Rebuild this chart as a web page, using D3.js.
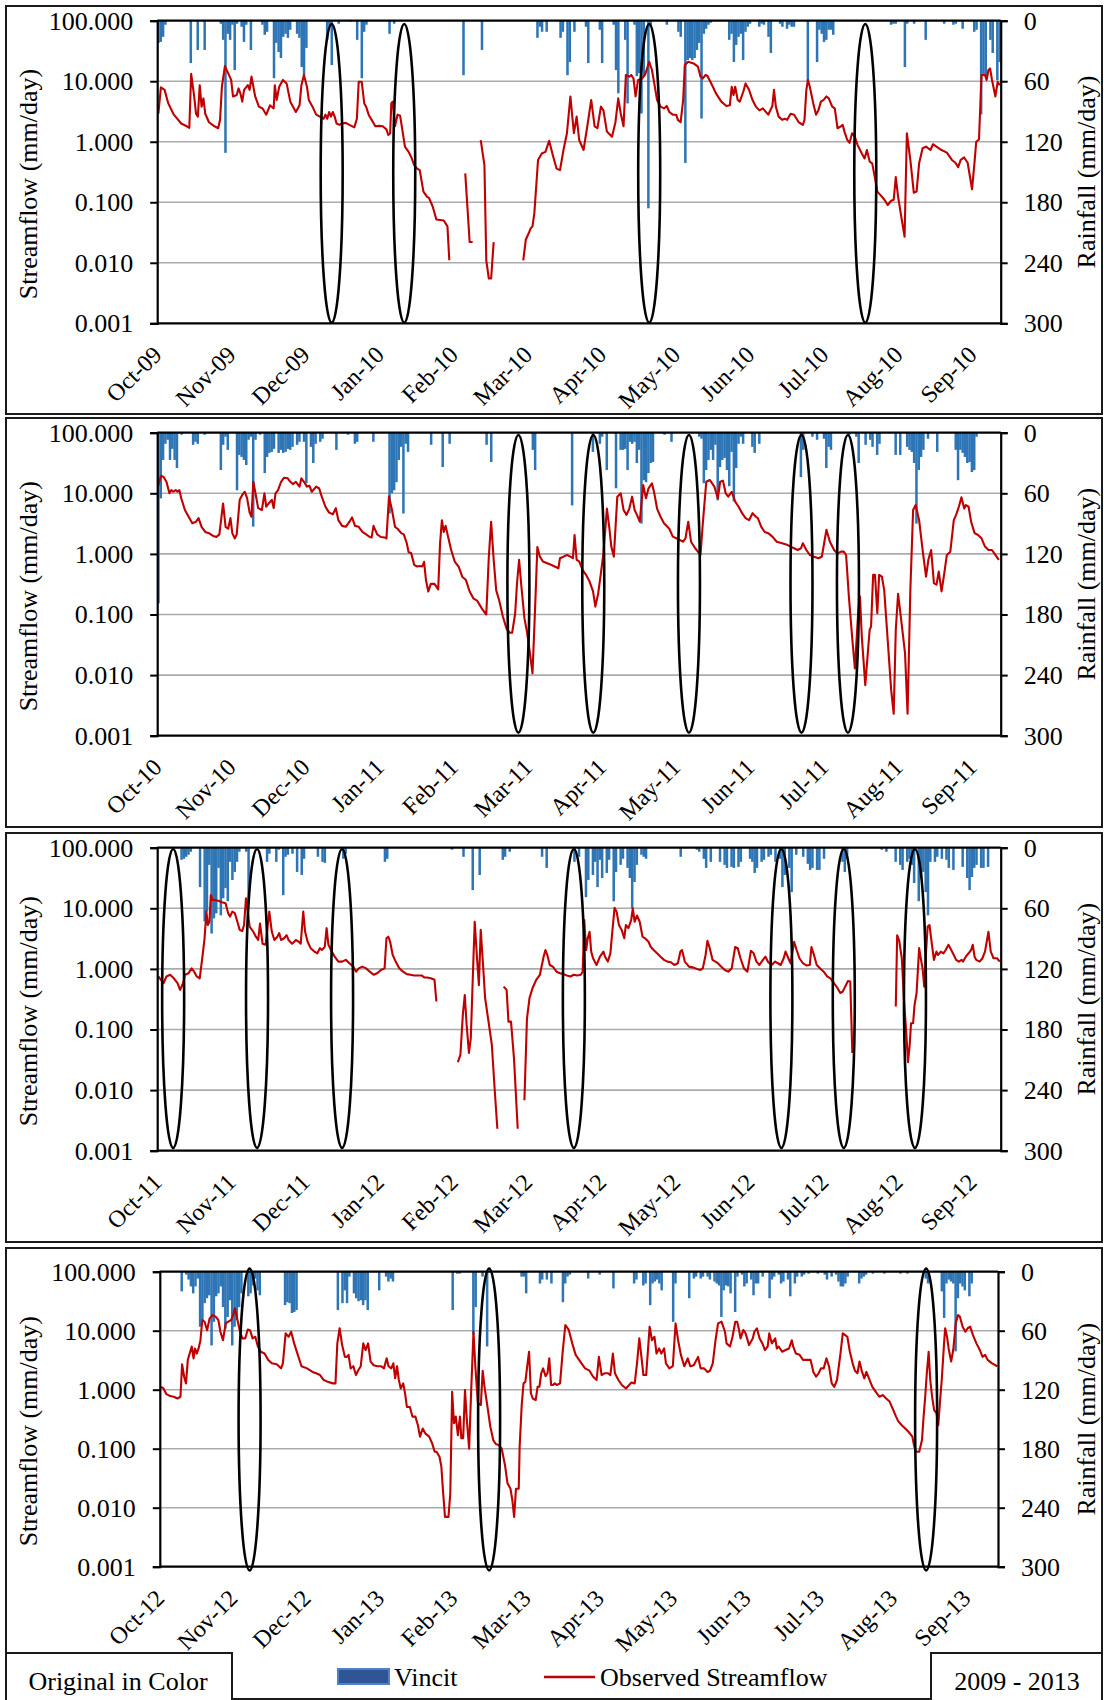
<!DOCTYPE html>
<html><head><meta charset="utf-8">
<script src="https://cdn.jsdelivr.net/npm/d3@7"></script>
<style>
body{margin:0;background:#fff}
svg{display:block}
text{font-family:"Liberation Serif","Times New Roman",serif;fill:#000}
</style>
</head><body>
<svg id="c" width="1104" height="1700"></svg>
<script>
// ---------- DATA ----------
const flowTicks=[0.001,0.01,0.1,1,10,100];
const rainTicks=[0,60,120,180,240,300];
const months1=["Oct-09","Nov-09","Dec-09","Jan-10","Feb-10","Mar-10","Apr-10","May-10","Jun-10","Jul-10","Aug-10","Sep-10"];
const months2=["Oct-10","Nov-10","Dec-10","Jan-11","Feb-11","Mar-11","Apr-11","May-11","Jun-11","Jul-11","Aug-11","Sep-11"];
const months3=["Oct-11","Nov-11","Dec-11","Jan-12","Feb-12","Mar-12","Apr-12","May-12","Jun-12","Jul-12","Aug-12","Sep-12"];
const months4=["Oct-12","Nov-12","Dec-12","Jan-13","Feb-13","Mar-13","Apr-13","May-13","Jun-13","Jul-13","Aug-13","Sep-13"];
const seriesNames=["Vincit","Observed Streamflow"];
const noteLeft="Original in Color";
const noteRight="2009 - 2013";
const flowTitle="Streamflow (mm/day)";
const rainTitle="Rainfall (mm/day)";

// streamflow: [day of water year, mm/day]; null = gap
const flow1=[[0.5,2.9],[1.6,7.9],[3.2,7.2],[4.8,4.3],[7.2,2.8],[10.4,2.0],[12.8,1.8],[13.9,1.7],[14.7,13.2],[16,5.6],[16.8,2.9],[17.6,2.6],[18.4,8.6],[19.2,3.8],[20,5.2],[20.8,2.9],[22.4,2.1],[24.8,1.8],[26.4,1.67],[27.2,2.3],[28,8.1],[29.3,17.8],[30.4,14.4],[32,10.5],[32.8,5.6],[34.4,5.9],[35.2,7.6],[36,6.3],[36.8,4.6],[37.6,7.2],[39.2,8.6],[40,7.2],[40.8,11.9],[42.4,5.6],[44,3.8],[45.6,3.55],[47.2,2.8],[48.8,4.0],[50.4,3.55],[50.9,8.6],[51.7,4.9],[52.8,8.1],[54.4,10.5],[56,9.2],[57.6,4.6],[60,3.1],[61.6,4.0],[62.4,8.6],[63.5,12.7],[64.8,8.1],[65.6,4.9],[67.2,3.8],[68.8,2.8],[70.4,2.6],[72,2.4],[72.8,2.8],[73.6,2.4],[74.4,3.1],[75.2,2.6],[76,3.1],[76.8,2.6],[77.6,2.0],[78.9,1.9],[80,2.0],[81.6,2.05],[83.2,1.9],[85.3,1.73],[86.4,2.4],[87.2,9.8],[88.5,9.8],[89.6,4.3],[90.4,3.8],[91.5,2.8],[92.8,2.3],[94.4,1.8],[96,1.83],[97.6,1.8],[99.2,1.6],[100,1.29],[100.8,1.37],[101.3,4.3],[101.9,4.6],[102.9,1.8],[104,2.8],[105.1,2.7],[106.1,1.56],[107.2,0.83],[108.8,0.68],[109.9,0.56],[111.2,0.41],[112.5,0.36],[113.6,0.34],[115.2,0.15],[116.8,0.123],[117.6,0.118],[119.2,0.085],[120.8,0.052],[124,0.050],[125.6,0.040],[126.4,0.011],[126.5,null],[133.3,0.30],[135.2,0.022],[136.5,0.022],[137,null],[140,1.06],[141.6,0.41],[142.4,0.011],[143.5,0.0055],[144.5,0.0055],[145.6,0.022],[146,null],[158.4,0.011],[159.5,0.024],[160.8,0.031],[161.6,0.037],[162.4,0.040],[163.2,0.066],[164.8,0.50],[166.4,0.64],[168,0.68],[169.6,1.04],[171.2,0.60],[172.8,0.36],[174.3,0.34],[175.8,0.73],[177.3,1.38],[178.8,5.6],[180.3,1.38],[181.5,2.6],[182.6,1.07],[184.5,0.73],[186.3,2.0],[187.8,4.9],[189.3,1.8],[190.5,1.67],[192,3.8],[193.1,3.3],[194.6,1.47],[196.8,1.21],[198.3,2.1],[199.5,5.2],[200.6,2.9],[201.8,1.8],[202.8,12.7],[204.3,11.9],[205.1,12.7],[206.1,11.1],[207,5.6],[208.1,10.5],[209.6,10.9],[211.1,12.7],[212.9,21],[214.1,15.3],[215.1,9.2],[216.3,4.9],[217.8,3.8],[219.3,3.55],[220.5,3.9],[221.6,3.1],[223.1,2.8],[224.6,2.8],[225.3,2.3],[226.5,2.1],[227.6,4.9],[228.3,18.5],[229.8,21],[232.1,19.7],[234,17.4],[235.1,11.9],[236.1,11.1],[237.3,12.7],[238.1,12.2],[239.6,9.4],[241.8,6.3],[244.1,4.6],[246.3,3.9],[247.8,4.0],[248.6,8.1],[249.4,5.9],[250.1,8.1],[251.2,4.9],[252.1,4.6],[253.6,6.7],[254.6,9.2],[256.1,7.2],[257.6,4.9],[259.1,3.8],[260.6,3.3],[262.1,3.55],[264.4,2.8],[266.2,3.9],[266.9,7.2],[267.7,3.8],[268.9,2.6],[270.4,2.3],[271.6,2.4],[272.6,2.3],[274.1,2.9],[275.6,2.8],[277.6,2.1],[279.4,1.9],[280.1,2.3],[280.9,7.2],[281.6,10.5],[282.4,8.1],[283.9,4.3],[285.1,2.8],[286.1,3.3],[287.2,4.6],[288.4,4.9],[289.6,5.6],[290.6,5.2],[292.1,3.8],[293.2,3.55],[294.4,1.67],[295.9,1.8],[296.6,1.9],[297.4,1.47],[298.6,1.07],[299.6,0.96],[300.7,1.38],[301.9,1.21],[303.1,0.88],[304.9,0.64],[306.1,0.53],[307.1,0.73],[308.3,0.47],[309.4,0.44],[310.6,0.25],[311.6,0.15],[313.1,0.13],[314.7,0.11],[316.1,0.090],[317.6,0.106],[318.7,0.11],[319.6,0.26],[320.6,0.124],[322.2,0.051],[323.4,0.027],[324.4,1.38],[325.9,0.50],[327.4,0.144],[328.6,0.15],[329.7,0.44],[331.2,0.78],[332.7,0.83],[334.6,0.73],[335.7,0.91],[337.2,0.83],[339.4,0.73],[341.7,0.66],[343.9,0.50],[345.4,0.45],[346.6,0.38],[347.7,0.50],[349.2,0.55],[350.7,0.45],[352.6,0.164],[353.7,0.47],[354.4,1.0],[355.6,1.09],[356.7,12.7],[358.2,12.7],[358.9,10.5],[359.7,15.3],[360.4,16.3],[361.2,10.7],[362.7,5.6],[363.7,9.8],[364.6,8.6]];

const flow2=[[0.3,12.9],[1.6,19.3],[2.7,18.8],[4,15.5],[5.3,10],[6.1,11.3],[6.9,10.6],[8,11.3],[8.8,10.6],[9.6,11.3],[10.4,8.3],[12,5.3],[13.6,4.1],[15.2,3.2],[16.8,3.4],[17.9,3.9],[19.2,2.8],[20.8,2.3],[22.4,2.2],[24,2.0],[25.6,1.9],[26.9,2.1],[28.5,6.8],[29.6,2.8],[30.7,2.6],[31.7,3.9],[32.5,2.2],[33.6,1.8],[34.4,2.1],[35.7,7.8],[36.8,9.4],[37.9,10.6],[38.9,8.3],[40,4.8],[40.8,4.1],[41.6,15.5],[42.4,10.6],[43.7,5.7],[45.3,5.3],[46.4,10],[47.2,6.0],[48.5,7.0],[49.6,7.8],[50.4,5.7],[51.2,10],[52.3,11.3],[53.6,15.5],[54.9,18.1],[56.5,17.7],[57.6,15.5],[58.7,14.2],[60,15.5],[61.6,12.9],[62.4,17.7],[63.5,15.5],[64.8,12.9],[65.9,13.3],[66.9,10.6],[68.8,12.9],[70.1,12.0],[71.2,8.8],[72.8,6.0],[74.4,4.8],[76,4.5],[77.3,5.7],[78.4,3.6],[80,2.9],[81.6,2.8],[83.2,3.4],[84.3,4.0],[85.6,2.9],[87.2,2.8],[88.8,2.3],[90.4,2.1],[92,1.9],[92.8,1.87],[93.6,2.9],[95.2,2.1],[96.8,1.9],[98.4,1.87],[99.2,1.8],[100.3,8.8],[101.6,5.3],[102.9,2.8],[104,2.6],[105.6,2.2],[106.7,2.1],[108,1.5],[108.8,1.06],[109.9,1.03],[111.2,0.66],[112.5,0.62],[113.6,0.63],[114.7,0.62],[115.5,0.74],[116.3,0.37],[117.3,0.24],[118.4,0.32],[120,0.32],[121.6,0.26],[122.4,1.5],[123.2,3.6],[124,2.3],[124.8,2.9],[125.9,1.9],[127.2,1.16],[128.8,0.74],[130.4,0.62],[132,0.42],[133.6,0.37],[135.2,0.24],[136.8,0.185],[138.4,0.17],[140,0.135],[140.8,0.12],[142.4,0.10],[143.5,0.9],[144.5,3.4],[145.6,0.8],[146.7,0.25],[148,0.17],[149.6,0.092],[151.2,0.058],[152.5,0.050],[153.6,0.050],[154.9,0.104],[155.7,0.33],[156.6,0.8],[157.6,0.29],[158.9,0.087],[160,0.052],[161.1,0.026],[162.4,0.0107],[163.5,0.12],[164.5,1.3],[165.6,0.9],[166.9,0.75],[168.8,0.7],[170.4,0.66],[172,0.62],[173.6,0.58],[174.3,0.85],[175.8,0.90],[177.3,0.96],[178.8,0.90],[179.9,0.85],[180.6,2.05],[181.5,0.80],[182.6,0.75],[184.1,0.54],[185.6,0.45],[187.1,0.35],[188.6,0.24],[189.6,0.135],[190.8,0.22],[192,0.48],[193.1,1.02],[194.6,5.6],[195.6,2.8],[196.5,1.32],[197.6,0.90],[199.1,8.8],[200.6,10],[201.8,5.3],[203.1,4.4],[204.3,5.6],[205.5,8.8],[206.6,5.3],[207.6,4.4],[208.8,3.4],[210.3,13.7],[211.5,8.3],[212.6,12.1],[214.1,14.6],[215.1,10],[216.3,5.6],[217.8,4.1],[219.3,3.2],[221.6,2.6],[223.1,1.93],[224.6,1.81],[226.1,1.70],[227.6,1.59],[228.6,1.81],[229.8,3.4],[231,1.59],[232.8,1.24],[235.1,0.96],[236.1,3.2],[237.6,15.5],[239.1,16.6],[241.1,12.9],[242.6,8.3],[243.6,15.5],[244.8,16.2],[246,10],[247.1,8.8],[248.6,10.6],[250.1,7.3],[251.6,6.0],[253.1,4.7],[254.6,3.9],[256.1,3.6],[257.6,4.7],[259.1,4.1],[259.9,3.9],[261.4,2.8],[262.9,2.3],[264.4,2.2],[266.2,1.93],[268.1,1.59],[270.4,1.5],[272.6,1.41],[274.1,1.32],[275.6,1.24],[277.1,1.16],[278.6,1.24],[279.4,1.5],[280.9,1.16],[282.4,0.96],[284.2,0.90],[286.1,0.85],[287.6,0.90],[289.6,2.5],[291.1,1.59],[292.9,1.16],[294.4,1.02],[295.9,1.09],[297.1,1.09],[298.1,0.96],[299.3,0.198],[300.7,0.043],[301.9,0.0129],[303.4,0.119],[304.1,0.198],[304.9,0.043],[306.4,0.0068],[307.6,0.026],[308.3,0.056],[308.9,0.063],[309.8,0.45],[310.6,0.45],[311.6,0.105],[312.4,0.45],[313.6,0.42],[314.6,0.25],[316.1,0.038],[317.6,0.0057],[318.7,0.0023],[319.6,0.056],[320.6,0.22],[322.1,0.072],[323.6,0.023],[324.7,0.0023],[325.9,0.25],[327.1,5.3],[328.2,6.4],[329.7,3.6],[331.2,1.16],[332.7,0.42],[333.7,0.80],[334.9,1.16],[336.1,0.33],[337.2,0.31],[338.2,0.51],[339.4,0.24],[340.6,0.48],[341.7,0.96],[343.2,1.09],[344.7,3.6],[345.7,4.4],[346.9,6.0],[348,8.6],[349.2,5.6],[349.9,6.4],[351.1,6.0],[352.2,3.4],[353.7,2.2],[355.2,2.05],[356.7,1.81],[358.2,1.32],[359.7,1.16],[361.2,1.16],[362.7,0.96],[364.2,0.80]];

const flow3=[[0.5,0.75],[1.6,0.66],[2.7,0.58],[4,0.75],[5.6,0.80],[7.2,0.70],[8.8,0.58],[9.9,0.45],[11.2,0.58],[12,0.80],[13.6,0.85],[14.9,1.02],[16,0.90],[17.1,0.75],[18.4,0.70],[19.5,1.5],[20.5,3.2],[21.3,8.8],[21.9,5.3],[22.6,6.0],[23.2,16.6],[24,13.7],[24.8,13.7],[26.4,13.3],[28,12.6],[29.6,12.1],[30.7,8.3],[31.5,7.3],[32.5,8.8],[33.6,8.3],[34.7,6.0],[35.7,4.4],[36.8,4.2],[37.6,5.3],[38.4,14.6],[39.2,8.8],[40,5.0],[41.6,4.1],[42.7,3.4],[43.7,3.0],[44.5,5.6],[45.6,2.6],[46.9,2.5],[48.5,8.8],[49.6,4.1],[50.7,3.0],[52,3.4],[52.8,3.9],[53.6,3.0],[54.9,3.2],[56,3.6],[56.8,3.0],[58.4,2.6],[60,3.0],[61.3,2.8],[62.1,2.6],[63.2,8.8],[64,4.1],[65.1,2.8],[66.4,2.2],[68,1.93],[69.3,1.81],[70.4,2.2],[71.2,2.05],[72.5,2.3],[73.3,4.7],[74.1,2.5],[75.2,2.05],[76.8,1.59],[78.4,1.32],[80,1.32],[81.6,1.41],[83.2,1.24],[84.8,1.09],[86.1,0.90],[87.2,1.02],[88.8,1.09],[90.4,1.02],[92,0.90],[93.6,0.80],[95.2,0.85],[96.8,0.96],[98.4,1.02],[99.2,3.2],[100,3.4],[100.8,2.8],[101.9,1.7],[103.2,1.32],[104.8,1.02],[106.4,0.90],[108,0.82],[109.6,0.80],[111.2,0.78],[112.8,0.78],[114.4,0.78],[115.7,0.72],[116.8,0.72],[118.4,0.70],[120,0.66],[120.8,0.29],[121,null],[130.1,0.029],[131.2,0.038],[132.3,0.185],[133.1,0.37],[133.9,0.12],[134.9,0.041],[135.7,0.072],[136.8,1.32],[137.4,6.0],[138.4,1.5],[139.2,0.54],[140,4.4],[141,1.16],[141.9,0.33],[143.2,0.15],[144.8,0.056],[146.1,0.0094],[147.2,0.0023],[148,null],[149.9,0.51],[151.2,0.45],[152,0.135],[153.1,0.135],[154.4,0.033],[156,0.0023],[156.5,null],[158.9,0.0068],[160,0.15],[161.1,0.33],[162.4,0.48],[164,0.66],[165.6,0.80],[167.2,1.59],[168,2.05],[168.8,1.7],[169.9,1.16],[171.2,1.09],[172.8,0.90],[174.3,0.85],[175.8,0.82],[177.3,0.78],[178.8,0.75],[180.3,0.80],[181.8,0.78],[183.3,0.80],[184.1,0.90],[184.8,6.4],[185.6,2.05],[186.3,3.2],[187.1,4.1],[187.8,1.93],[188.6,1.5],[190.1,1.16],[191.6,1.59],[193.1,1.93],[193.8,1.59],[195,1.32],[196.1,1.81],[196.8,3.6],[197.9,10.2],[198.8,8.8],[199.8,5.3],[201,4.4],[202.1,3.2],[202.8,5.3],[203.9,4.7],[205.1,6.4],[205.8,10],[206.6,6.0],[207.6,7.6],[208.8,6.0],[210,3.4],[211.1,3.2],[212.6,2.8],[213.6,2.3],[214.8,2.05],[216.3,1.81],[217.8,1.59],[219.3,1.41],[220.8,1.32],[222.3,1.29],[223.8,1.16],[225.3,1.24],[226.4,1.93],[227.1,2.05],[228.3,1.32],[230.1,1.09],[232.1,1.05],[233.6,1.0],[235.1,0.96],[236.1,1.02],[237.3,1.7],[238.1,2.9],[239.1,2.2],[240.3,1.41],[242.6,1.24],[244.1,1.09],[245.6,0.96],[247.1,0.90],[248.6,1.02],[250.1,2.3],[251.2,2.2],[252.4,1.5],[253.9,1.02],[255.4,0.90],[256.9,1.98],[258.1,1.81],[259.3,1.32],[260.6,1.16],[262.1,1.41],[263.2,1.59],[264.4,1.29],[265.9,1.16],[267.4,1.32],[268.6,1.24],[269.8,1.16],[271.1,1.5],[271.9,1.93],[273.1,1.5],[274.1,1.24],[275.6,2.8],[276.7,2.05],[277.9,1.5],[279.4,1.24],[280.9,1.14],[282.4,1.16],[283.1,2.3],[284.2,1.7],[285.4,1.16],[286.9,1.02],[288.4,0.90],[289.9,0.75],[291.4,0.69],[292.9,0.58],[294.4,0.48],[295.6,0.40],[296.6,0.42],[297.7,0.51],[298.9,0.63],[299.9,0.62],[300.8,0.041],[301,null],[319.6,0.24],[320.2,3.6],[321.1,2.9],[322.2,1.5],[323.2,0.29],[324.1,0.092],[324.9,0.029],[325.6,0.054],[326.2,0.127],[327.1,0.127],[327.7,0.25],[328.6,0.40],[329.7,2.2],[330.4,1.5],[331.2,1.02],[331.9,0.51],[332.7,1.93],[333.4,5.0],[334.2,5.3],[334.9,3.2],[336.1,1.41],[337.2,1.93],[337.9,1.7],[339.1,1.93],[340.2,1.81],[341.2,2.05],[342.4,2.5],[343.6,2.05],[344.7,1.7],[345.7,1.41],[346.9,1.32],[348.1,1.41],[348.7,1.32],[349.9,1.59],[351.1,1.81],[352.2,2.05],[352.9,2.5],[353.7,1.59],[354.4,1.41],[355.9,1.32],[357.1,1.5],[358.2,1.93],[359.7,4.1],[360.7,1.93],[361.9,1.5],[363.4,1.5],[364.6,1.32]];

const flow4=[[0.5,1.12],[1.6,1.05],[2.9,0.84],[4.5,0.78],[6.1,0.76],[7.7,0.71],[9.0,0.76],[9.7,2.7],[10.6,1.66],[11.4,1.28],[12.2,3.2],[13,4.1],[13.9,5.4],[14.7,3.4],[15.3,5.0],[16.1,4.1],[16.9,5.0],[17.7,6.9],[18.5,15.2],[19.5,14.2],[20.6,10.2],[21.7,16.2],[23,18.4],[24.3,17.3],[25.5,15.2],[26.4,9.6],[27.5,6.9],[28.7,13.3],[29.8,14.2],[31.1,15.2],[31.9,18.4],[32.7,23.9],[33.5,17.3],[34.8,10.2],[35.9,7.4],[37.2,7.4],[38.3,10.5],[39.3,10.2],[40.4,7.4],[41.6,7.9],[42.7,5.4],[44,4.4],[45.6,4.1],[47.2,3.2],[48.8,2.8],[50.9,2.7],[52.8,2.3],[53.6,2.8],[54.8,9.0],[56.1,7.9],[57.2,9.6],[58.5,6.1],[60.1,3.9],[61.7,2.5],[64.1,2.3],[66.5,2.0],[68.1,1.9],[69.8,1.77],[71.4,1.46],[73,1.37],[75.4,1.28],[76.5,1.28],[77.3,6.1],[78.3,11],[79.4,5.7],[80.6,3.6],[81.4,3.6],[82.2,3.9],[83.1,2.3],[84.3,2.5],[85.4,1.77],[86.3,2.1],[87.5,2.5],[88.6,6.1],[89.6,4.7],[90.7,6.1],[91.8,3.0],[93.1,2.6],[94.7,2.5],[96.3,2.5],[97.6,2.3],[98.8,3.4],[99.6,2.5],[100.8,2.3],[101.7,2.8],[102.5,1.56],[103.3,2.5],[104.1,1.46],[104.9,1.05],[106,1.28],[106.8,0.87],[107.6,0.51],[108.9,0.51],[110,0.35],[111.3,0.35],[112.4,0.25],[113.3,0.16],[114.5,0.22],[115.7,0.18],[117.3,0.16],[118.6,0.123],[119.7,0.089],[120.5,0.089],[121.8,0.073],[122.6,0.050],[123.4,0.0175],[124.2,0.0070],[125.7,0.0070],[126.5,0.0175],[127.3,0.92],[128.1,0.27],[128.9,0.35],[129.8,0.17],[130.7,0.35],[131.3,0.15],[132.1,0.15],[132.9,0.99],[133.7,0.31],[134.7,0.1],[135.6,0.99],[136.6,9.6],[137.4,2.5],[138.5,0.59],[139.8,0.55],[140.6,2.1],[141.4,1.12],[142.7,0.51],[143.9,0.24],[145.2,0.14],[146.3,0.12],[147.6,0.115],[148.9,0.1],[150.3,0.053],[151.4,0.026],[152.7,0.021],[153.5,0.0135],[154.3,0.007],[155.1,0.021],[156.3,0.021],[156.7,0.108],[157.6,0.55],[158.4,1.28],[159.2,1.37],[160,2.5],[160.8,4.4],[161.6,0.87],[162.4,0.71],[163.7,0.67],[164.5,1.12],[165.3,1.12],[166.1,1.9],[166.9,2.3],[168,1.7],[168.8,1.9],[169.6,3.4],[170.4,1.2],[171.2,1.2],[172,1.28],[172.9,1.2],[174.3,1.28],[175.5,4.7],[176.6,12.5],[178.1,10.3],[179.6,6.1],[181.1,3.9],[183.1,3.0],[185.2,2.3],[187.1,2.1],[188.7,1.66],[190.2,1.46],[191.2,3.6],[192.4,1.77],[193.6,1.9],[195.2,1.9],[196.2,1.77],[197.3,4.1],[198.2,1.9],[199.7,1.46],[201.2,1.2],[203,1.05],[205.3,1.32],[206.8,1.28],[207.8,2.8],[208.8,7.4],[209.4,4.7],[210.6,1.77],[211.8,1.77],[213.3,11.7],[214.3,6.9],[215.4,7.9],[216.3,4.1],[217.4,5.0],[218.4,4.1],[219.6,5.0],[220.4,2.8],[221.9,2.3],[223.4,2.5],[224.6,13.3],[225.7,6.9],[226.9,3.9],[228.4,2.5],[229.9,3.4],[231,2.5],[232.5,2.6],[234.4,3.6],[235.5,2.3],[237,2.3],[238.5,2.0],[239.6,2.1],[240.8,2.8],[242,6.9],[243.1,13.3],[244.6,14.2],[246.1,9.6],[246.8,6.1],[248.3,5.4],[249.4,7.9],[250.6,14.2],[251.4,14.2],[252.1,11],[252.9,7.4],[254.1,10.3],[255.1,9.0],[256.6,5.7],[258.2,7.4],[258.9,9.6],[260,11],[261.2,7.4],[262.4,6.1],[263.5,4.7],[264.7,5.4],[265.4,9.0],[266.5,6.1],[268,7.4],[268.7,5.0],[269.5,5.4],[271,4.4],[272.5,4.7],[274,5.0],[275.2,6.9],[275.8,5.4],[277,4.1],[278.6,3.9],[280.1,3.2],[281.9,3.2],[283.4,3.2],[284.6,2.0],[285.8,1.66],[286.9,1.9],[287.9,2.3],[289.1,2.3],[290.3,3.4],[291.4,2.5],[292.6,1.28],[293.7,1.12],[294.9,1.46],[296.4,4.1],[297.4,9.0],[298.5,8.4],[299.4,7.9],[300.5,4.4],[301.7,2.8],[302.7,2.1],[303.8,1.9],[304.7,3.0],[305.8,2.0],[306.8,1.56],[307.7,2.0],[308.8,1.56],[310.3,1.12],[311.8,0.92],[313.3,0.76],[314.8,0.81],[316.3,0.71],[317.8,0.63],[319.4,0.45],[320.6,0.35],[321.6,0.29],[323.1,0.25],[324.6,0.22],[326.2,0.19],[327.7,0.16],[328.4,0.115],[329.2,0.089],[330.7,0.089],[331.9,0.14],[332.6,0.35],[333.3,0.76],[334,1.9],[334.8,4.4],[335.5,1.46],[336.3,0.76],[337.2,0.45],[338.2,0.4],[339,0.25],[339.8,0.67],[340.5,1.46],[341.6,6.9],[342,11],[342.8,7.9],[343.5,5.0],[344.6,3.0],[345.5,4.7],[346.6,13.3],[347.6,18.4],[348.4,17.3],[349.6,11.7],[350.8,9.6],[351.8,11],[352.9,11.7],[354.1,8.4],[355.6,6.1],[357.1,4.7],[358.3,3.6],[359.4,3.9],[360.5,3.2],[362.4,2.8],[364.7,2.5]];

// rainfall: [day of water year, mm/day]
const rain1=[[0,22],[1,21],[2,16],[3,4],[14,42],[17,29],[20,29],[27,3],[28,19],[29,131],[30,13],[31,19],[32,4],[33,49],[34,3],[36,6],[37,21],[38,4],[40,29],[45,4],[46,14],[47,11],[50,57],[51,22],[52,31],[53,37],[54,16],[55,13],[56,17],[57,9],[60,13],[61,17],[62,46],[63,54],[64,27],[73,19],[74,6],[75,44],[78,3],[83,1],[86,19],[88,57],[89,11],[90,4],[100,13],[102,3],[132,54],[140,29],[164,17],[165,6],[166,11],[168,11],[174,17],[175,11],[177,54],[178,41],[180,11],[185,6],[186,42],[191,9],[192,42],[197,4],[198,49],[199,72],[202,19],[203,82],[206,4],[207,55],[208,52],[209,92],[210,55],[212,186],[213,6],[220,4],[225,11],[226,16],[228,141],[229,39],[230,37],[231,39],[232,37],[233,29],[234,22],[235,97],[236,13],[237,8],[238,4],[239,2],[247,19],[248,13],[249,41],[250,24],[251,16],[252,13],[253,39],[254,11],[255,6],[256,3],[260,6],[261,3],[262,4],[264,16],[265,32],[269,3],[270,6],[272,8],[273,4],[274,6],[275,6],[281,60],[285,41],[286,9],[287,13],[288,21],[289,19],[290,9],[291,9],[292,14],[317,4],[318,3],[319,3],[323,46],[324,3],[327,3],[332,19],[340,3],[344,4],[345,3],[348,8],[353,11],[354,9],[356,93],[357,54],[358,55],[360,19],[361,32],[363,59],[364,41]];

const rain2=[[0,169],[1,65],[2,27],[3,11],[4,7],[5,27],[6,16],[7,27],[8,35],[10,2],[15,12],[16,9],[17,11],[20,2],[27,37],[28,12],[29,4],[30,17],[34,57],[35,22],[36,24],[37,27],[38,32],[39,7],[40,4],[41,93],[42,7],[44,2],[46,40],[47,24],[48,20],[49,19],[50,16],[52,20],[53,17],[54,20],[55,19],[56,16],[57,17],[58,14],[60,12],[61,9],[63,9],[64,50],[66,14],[67,30],[68,11],[70,9],[71,6],[77,17],[82,2],[85,11],[86,9],[93,9],[100,80],[101,60],[102,57],[103,49],[104,27],[105,14],[106,80],[107,11],[108,19],[118,12],[123,34],[126,11],[142,12],[144,29],[162,17],[163,37],[179,72],[188,19],[191,11],[192,4],[194,37],[198,55],[200,17],[201,17],[202,16],[203,37],[204,9],[205,11],[206,9],[207,30],[208,17],[209,90],[210,47],[211,49],[212,40],[213,30],[214,29],[219,2],[222,9],[234,4],[235,6],[236,50],[237,37],[238,27],[239,17],[240,27],[241,12],[242,67],[243,34],[244,27],[245,25],[246,37],[247,53],[248,19],[249,68],[250,35],[251,11],[252,4],[253,11],[257,14],[258,20],[260,11],[278,44],[279,17],[283,4],[285,7],[288,6],[289,35],[290,14],[291,17],[299,2],[302,4],[303,30],[306,12],[308,7],[309,14],[311,22],[312,11],[319,22],[321,22],[324,14],[325,17],[326,19],[327,30],[328,90],[329,37],[330,24],[331,17],[333,6],[337,19],[345,17],[346,47],[347,17],[348,20],[349,24],[350,30],[351,29],[352,39],[353,37],[354,4]];

const rain3=[[10,12],[11,11],[12,9],[13,7],[14,4],[18,39],[20,73],[21,63],[22,17],[23,85],[24,70],[25,65],[26,20],[27,67],[28,50],[29,40],[30,53],[31,14],[32,32],[33,24],[34,14],[35,4],[38,4],[39,55],[47,14],[48,6],[51,14],[52,2],[54,47],[55,9],[56,7],[58,6],[60,24],[62,27],[63,11],[69,9],[71,14],[72,15],[80,11],[81,6],[98,14],[99,11],[127,2],[132,9],[136,42],[139,27],[149,12],[150,9],[152,4],[166,9],[168,20],[180,14],[182,9],[185,49],[186,32],[188,27],[189,14],[190,39],[191,12],[192,30],[194,25],[195,12],[197,53],[198,24],[200,17],[201,11],[203,20],[204,30],[205,60],[206,34],[207,17],[209,7],[210,9],[211,11],[226,9],[233,2],[234,4],[236,11],[237,20],[239,14],[243,14],[245,17],[246,20],[248,19],[249,20],[251,19],[252,14],[256,11],[257,14],[258,25],[259,20],[261,14],[262,12],[264,9],[265,7],[267,14],[269,11],[270,39],[271,27],[273,20],[274,44],[276,7],[279,9],[281,16],[282,22],[283,20],[285,22],[286,22],[288,11],[296,14],[297,24],[298,11],[313,2],[315,4],[319,14],[321,17],[322,22],[324,14],[325,11],[326,17],[327,35],[329,53],[330,30],[331,24],[332,44],[333,67],[334,14],[336,14],[337,9],[339,11],[341,12],[342,20],[344,22],[348,19],[350,30],[351,42],[352,29],[353,20],[354,17],[356,20],[357,20],[359,19]];

const rain4=[[9,20],[11,3],[12,8],[13,15],[14,22],[15,15],[16,7],[17,56],[18,49],[19,32],[20,27],[21,24],[22,75],[23,51],[24,25],[25,22],[26,15],[27,36],[28,58],[29,46],[30,29],[31,75],[32,56],[33,49],[34,36],[35,22],[38,25],[39,22],[40,14],[41,7],[42,19],[43,24],[54,34],[55,31],[56,32],[57,42],[58,41],[59,39],[77,39],[79,32],[80,19],[81,32],[82,5],[84,22],[85,27],[86,30],[87,29],[88,34],[89,29],[90,39],[95,19],[98,5],[99,10],[100,7],[101,10],[127,39],[129,2],[130,2],[136,64],[137,36],[140,5],[142,76],[157,5],[158,5],[159,22],[165,12],[166,8],[168,8],[170,12],[175,31],[176,12],[177,5],[178,3],[186,7],[191,3],[197,17],[206,12],[207,8],[210,14],[211,12],[213,34],[214,12],[215,10],[216,8],[217,12],[218,19],[223,51],[224,12],[230,27],[232,7],[233,5],[235,7],[236,5],[238,5],[239,8],[241,10],[242,12],[243,14],[244,46],[245,19],[246,14],[247,15],[248,22],[250,41],[251,5],[253,3],[254,15],[255,12],[257,8],[258,24],[259,12],[260,12],[262,5],[265,27],[266,8],[267,5],[269,3],[270,12],[271,10],[273,8],[274,25],[276,12],[277,5],[279,5],[280,3],[282,2],[286,2],[289,3],[290,8],[292,5],[294,3],[295,10],[296,15],[297,15],[298,12],[299,5],[304,12],[305,7],[306,5],[307,3],[310,2],[315,2],[322,2],[325,2],[333,7],[334,12],[340,20],[341,47],[342,12],[343,8],[344,10],[345,12],[346,81],[347,27],[348,12],[349,15],[350,19],[352,25],[353,12]];

// highlighted events (day of water year at ellipse centre)
const events1=[75.5,106.9,212.9,306.4];
const events2=[156.3,188.7,230.1,278.8,298.9];
const events3=[6.9,43.2,80,180.3,270.1,297.1,327.9];
const events4=[39.1,143.4,333.7];

// ---------- LAYOUT ----------
const layout=[
 {top:20.7,bottom:323.3,left:157.2,right:1000.7,boxTop:6,boxBottom:414,ellTop:24,ellBot:322.7,step:74.1},
 {top:432.7,bottom:735.7,left:157.2,right:1000.7,boxTop:418,boxBottom:827,ellTop:435,ellBot:732.7,step:74.1},
 {top:847.7,bottom:1150.7,left:157.2,right:1000.7,boxTop:833,boxBottom:1242,ellTop:849,ellBot:1148,step:74.1},
 {top:1271.7,bottom:1566.7,left:159.8,right:998,boxTop:1248,boxBottom:1699,ellTop:1268.5,ellBot:1570.5,step:73.3}
];
const panels=[
 {flow:flow1,rain:rain1,events:events1,months:months1},
 {flow:flow2,rain:rain2,events:events2,months:months2},
 {flow:flow3,rain:rain3,events:events3,months:months3},
 {flow:flow4,rain:rain4,events:events4,months:months4}
];

const FONT='"Liberation Serif","Times New Roman",serif';
const svg=d3.select('#c');
svg.append('rect').attr('width',1104).attr('height',1700).attr('fill','#fff');

panels.forEach((p,i)=>{
  const L=layout[i];
  const g=svg.append('g');
  g.append('rect').attr('x',6).attr('y',L.boxTop).attr('width',1096).attr('height',L.boxBottom-L.boxTop)
    .attr('fill','none').attr('stroke','#1a1a1a').attr('stroke-width',2);

  const x=d3.scaleLinear().domain([0,365]).range([L.left,L.right]);
  const yF=d3.scaleLog().domain([0.001,100]).range([L.bottom,L.top]);
  const yR=d3.scaleLinear().domain([0,300]).range([L.top,L.bottom]);
  const xm=d3.scalePoint().domain(p.months).range([L.left,L.left+11*L.step]);

  const clipId='clip'+i;
  g.append('clipPath').attr('id',clipId).append('rect')
    .attr('x',L.left).attr('y',L.top).attr('width',L.right-L.left).attr('height',L.bottom-L.top);

  // gridlines
  g.append('g').selectAll('line').data(flowTicks.slice(1,-1)).join('line')
    .attr('x1',L.left).attr('x2',L.right).attr('y1',d=>yF(d)).attr('y2',d=>yF(d))
    .attr('stroke','#ababab').attr('stroke-width',1.6);

  // rainfall bars
  g.append('g').attr('clip-path',`url(#${clipId})`).selectAll('rect').data(p.rain).join('rect')
    .attr('x',d=>x(d[0])).attr('width',d=>x(d[0]+1)-x(d[0])+0.2)
    .attr('y',L.top).attr('height',d=>yR(d[1])-L.top).attr('fill','#2E75B6');

  // streamflow line
  const line=d3.line().defined(d=>d[1]!=null).x(d=>x(d[0])).y(d=>yF(d[1]));
  g.append('path').datum(p.flow).attr('d',line).attr('fill','none')
    .attr('stroke','#C00000').attr('stroke-width',2.1).attr('stroke-linejoin','round');

  // axes
  const axL=g.append('g').attr('transform',`translate(${L.left},0)`)
    .call(d3.axisLeft(yF).tickValues(flowTicks).tickFormat(d3.format('.3f')).tickSize(7).tickPadding(17));
  const axR=g.append('g').attr('transform',`translate(${L.right},0)`)
    .call(d3.axisRight(yR).tickValues(rainTicks).tickFormat(d3.format('d')).tickSize(7).tickPadding(16));
  [axL,axR].forEach(a=>{
    a.attr('font-family',FONT);
    a.selectAll('text').attr('font-family',FONT).attr('font-size',26).attr('fill','#000');
    a.selectAll('line').attr('stroke','#000').attr('stroke-width',2);
    a.select('.domain').attr('stroke','#000').attr('stroke-width',2.2);
  });
  g.append('line').attr('x1',L.left).attr('x2',L.right).attr('y1',L.top).attr('y2',L.top)
    .attr('stroke','#000').attr('stroke-width',2.2);
  g.append('line').attr('x1',L.left).attr('x2',L.right).attr('y1',L.bottom).attr('y2',L.bottom)
    .attr('stroke','#000').attr('stroke-width',2.2);

  // event ellipses
  g.append('g').selectAll('ellipse').data(p.events).join('ellipse')
    .attr('cx',d=>x(d)).attr('cy',(L.ellTop+L.ellBot)/2).attr('rx',11).attr('ry',(L.ellBot-L.ellTop)/2)
    .attr('fill','none').attr('stroke','#000').attr('stroke-width',2.6);

  // month labels
  g.append('g').selectAll('text').data(p.months).join('text')
    .attr('transform',d=>`translate(${xm(d)},${L.bottom+27}) rotate(-45)`)
    .attr('text-anchor','end').attr('dy','0.35em')
    .attr('font-family',FONT).attr('font-size',24).text(d=>d);

  // axis titles
  const cy=(L.top+L.bottom)/2;
  g.append('text').attr('transform',`translate(28,${cy+12}) rotate(-90)`)
    .attr('text-anchor','middle').attr('dy','0.35em').attr('font-family',FONT).attr('font-size',26).text(flowTitle);
  g.append('text').attr('transform',`translate(1086,${cy}) rotate(-90)`)
    .attr('text-anchor','middle').attr('dy','0.35em').attr('font-family',FONT).attr('font-size',26).text(rainTitle);
});

// bottom notes and legend
const lg=svg.append('g').attr('font-family',FONT);
lg.append('rect').attr('x',6).attr('y',1653).attr('width',226).attr('height',50).attr('fill','#fff').attr('stroke','#1a1a1a').attr('stroke-width',2);
lg.append('rect').attr('x',931).attr('y',1653).attr('width',171).attr('height',50).attr('fill','#fff').attr('stroke','#1a1a1a').attr('stroke-width',2);
lg.append('text').attr('x',118).attr('y',1681).attr('text-anchor','middle').attr('dy','0.35em').attr('font-size',26).text(noteLeft);
lg.append('text').attr('x',1017).attr('y',1681).attr('text-anchor','middle').attr('dy','0.35em').attr('font-size',26).text(noteRight);
lg.append('rect').attr('x',338).attr('y',1669).attr('width',51).attr('height',15).attr('fill','#2F5597').attr('stroke','#4F81C7').attr('stroke-width',2);
lg.append('text').attr('x',394).attr('y',1677).attr('dy','0.35em').attr('font-size',26).text(seriesNames[0]);
lg.append('line').attr('x1',544).attr('x2',595).attr('y1',1677).attr('y2',1677).attr('stroke','#C00000').attr('stroke-width',2.5);
lg.append('text').attr('x',600).attr('y',1677).attr('dy','0.35em').attr('font-size',26).text(seriesNames[1]);
</script>
</body></html>
